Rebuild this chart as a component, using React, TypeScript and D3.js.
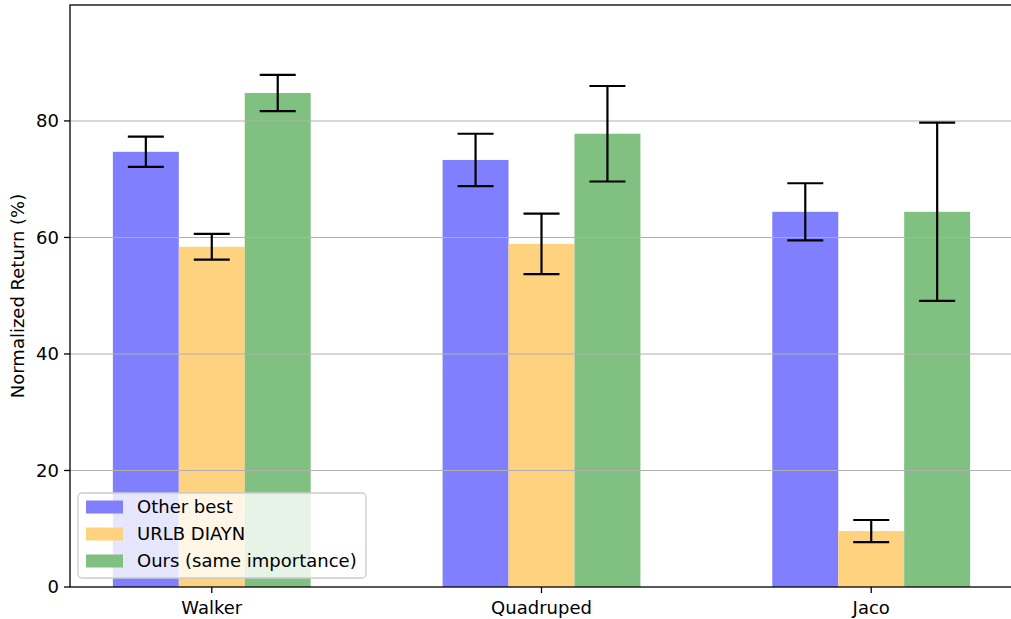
import React from "react";
import * as d3 from "d3";

const categories = ["Walker", "Quadruped", "Jaco"];
const seriesNames = ["Other best", "URLB DIAYN", "Ours (same importance)"];
const seriesColors = ["#8080ff", "#ffd280", "#80c080"];
const otherBest = [74.7, 73.3, 64.4];
const otherBestErr = [2.6, 4.5, 4.9];
const urlbDiayn = [58.4, 58.9, 9.6];
const urlbDiaynErr = [2.2, 5.2, 1.9];
const ours = [84.8, 77.8, 64.4];
const oursErr = [3.1, 8.2, 15.3];
const yTicks = [0, 20, 40, 60, 80];

const W = 1011;
const H = 619;
const left = 70;
const right = 1013;
const top = 5;
const bottom = 587;
const FONT = "DejaVu Sans, sans-serif";
const FS = 18;

export default function App() {
  const values = [otherBest, urlbDiayn, ours];
  const errs = [otherBestErr, urlbDiaynErr, oursErr];
  const barW = 0.2;
  const x = d3.scaleLinear().domain([-0.43, 2.43]).range([left, right]);
  const y = d3.scaleLinear().domain([0, 99.9]).range([bottom, top]);
  const bw = x(barW) - x(0);
  const cap = 18;

  return (
    <svg width={W} height={H} style={{ position: "absolute", left: 0, top: 0 }} fontFamily={FONT}>
      <rect x={0} y={0} width={W} height={H} fill="#fff" />
      {/* bars */}
      {values.map((vals, s) =>
        vals.map((v, i) => {
          const cx = x(i + (s - 1) * barW);
          return (
            <rect key={`b${s}-${i}`} x={cx - bw / 2} y={y(v)} width={bw} height={y(0) - y(v)} fill={seriesColors[s]} />
          );
        })
      )}
      {/* grid */}
      {yTicks.filter((t) => t > 0).map((t) => (
        <line key={`g${t}`} x1={left} x2={right} y1={y(t)} y2={y(t)} stroke="#b0b0b0" strokeWidth={1.1} />
      ))}
      {/* error bars */}
      {values.map((vals, s) =>
        vals.map((v, i) => {
          const cx = x(i + (s - 1) * barW);
          const hi = y(v + errs[s][i]);
          const lo = y(v - errs[s][i]);
          return (
            <g key={`e${s}-${i}`} stroke="#000" strokeWidth={2.2}>
              <line x1={cx} x2={cx} y1={hi} y2={lo} />
              <line x1={cx - cap} x2={cx + cap} y1={hi} y2={hi} />
              <line x1={cx - cap} x2={cx + cap} y1={lo} y2={lo} />
            </g>
          );
        })
      )}
      {/* spines */}
      <rect x={left} y={top} width={right - left} height={bottom - top} fill="none" stroke="#000" strokeWidth={1.3} />
      {/* y ticks */}
      {yTicks.map((t) => (
        <g key={`yt${t}`}>
          <line x1={left - 6} x2={left} y1={y(t)} y2={y(t)} stroke="#000" strokeWidth={1.3} />
          <text x={left - 11} y={y(t)} dy="0.35em" textAnchor="end" fontSize={FS} fill="#000">
            {t}
          </text>
        </g>
      ))}
      {/* x ticks */}
      {categories.map((c, i) => (
        <g key={`xt${c}`}>
          <line x1={x(i)} x2={x(i)} y1={bottom} y2={bottom + 6} stroke="#000" strokeWidth={1.3} />
          <text x={x(i)} y={bottom + 27} textAnchor="middle" fontSize={FS} fill="#000">
            {c}
          </text>
        </g>
      ))}
      <text
        transform={`translate(${18},${(top + bottom) / 2}) rotate(-90)`}
        textAnchor="middle"
        fontSize={FS}
        fill="#000"
        dy="0.35em"
      >
        Normalized Return (%)
      </text>
      {/* legend */}
      <g>
        <rect x={78} y={493} width={288} height={85} rx={4} fill="#fff" fillOpacity={0.8} stroke="#cccccc" strokeWidth={1.3} />
        {seriesNames.map((n, s) => (
          <g key={`l${s}`}>
            <rect x={86} y={500.5 + s * 27} width={37} height={13} fill={seriesColors[s]} />
            <text x={137} y={507 + s * 27} dy="0.35em" fontSize={FS} fill="#000">
              {n}
            </text>
          </g>
        ))}
      </g>
    </svg>
  );
}
